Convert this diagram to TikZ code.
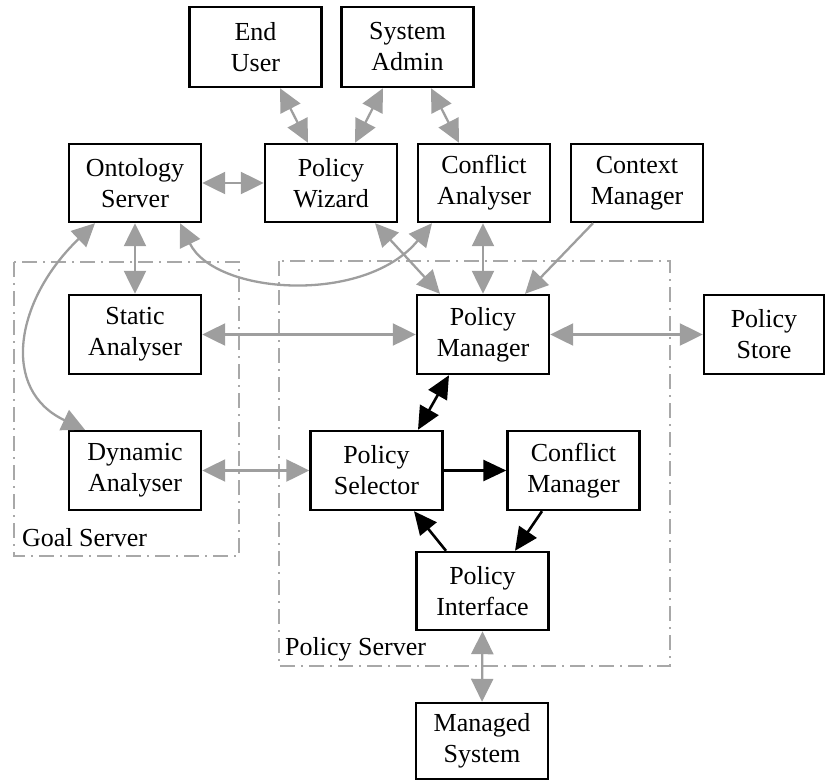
\documentclass[tikz,border=0pt]{standalone}
\usepackage{fontspec}
\setmainfont{Liberation Serif}
\usetikzlibrary{arrows.meta,calc}
\definecolor{argray}{RGB}{158,158,158}
\definecolor{grpgray}{RGB}{168,168,168}
\begin{document}
\begin{tikzpicture}[x=1pt,y=-1pt,
  box/.style={draw=black,line width=2.4pt,fill=white,minimum width=132pt,minimum height=79pt,inner sep=0pt,align=center,font=\fontsize{26}{31}\selectfont},
  lbl/.style={inner sep=0pt,font=\fontsize{26}{31}\selectfont},
  grp/.style={draw=grpgray,line width=2pt,dash pattern=on 15pt off 6pt on 2pt off 6pt},
  garrow/.style={draw=argray,line width=2.3pt,{Triangle[length=23pt,width=22pt]}-{Triangle[length=23pt,width=22pt]}},
  gsingle/.style={draw=argray,line width=2.3pt,-{Triangle[length=23pt,width=22pt]}},
  barrow/.style={draw=black,line width=2.6pt,{Triangle[length=23pt,width=21pt]}-{Triangle[length=23pt,width=21pt]}},
  bsingle/.style={draw=black,line width=2.6pt,-{Triangle[length=23pt,width=21pt]}}
]
\useasboundingbox (0,0) rectangle (827,780);
% groups
\draw[grp] (14,262) rectangle (239,556);
\draw[grp] (279,261) rectangle (670,666);
\node[lbl,anchor=base west] (goallbl) at (22,546) {Goal Server};
\node[lbl,anchor=base west] (pollbl) at (285,655) {Policy Server};
% boxes
\node[box,minimum height=80pt] (eu) at (255.5,47) {End\\User};
\node[box,minimum height=80pt] (sa) at (407.5,47) {System\\Admin};
\node[box,minimum height=78pt] (os) at (135,183) {Ontology\\Server};
\node[box,minimum height=78pt] (pw) at (331,183) {Policy\\Wizard};
\node[box,minimum height=78pt] (ca) at (484,183) {Conflict\\Analyser};
\node[box,minimum height=78pt] (cm) at (637,183) {Context\\Manager};
\node[box] (st) at (135,334.5) {Static\\Analyser};
\node[box] (pm) at (483,334.5) {Policy\\Manager};
\node[box,minimum width=120pt] (ps) at (764,334.5) {Policy\\Store};
\node[box] (da) at (135,470.5) {Dynamic\\Analyser};
\node[box] (sel) at (376.5,470.5) {Policy\\Selector};
\node[box] (cfm) at (573.5,470.5) {Conflict\\Manager};
\node[box,minimum height=78pt] (pi) at (482.5,591) {Policy\\Interface};
\node[box,minimum height=76pt] (ms) at (482,741) {Managed\\System};
% gray connectors
\draw[garrow] ([xshift=24.5pt]eu.south) -- ([xshift=-23pt]pw.north);
\draw[garrow] ([xshift=-24.5pt]sa.south) -- ([xshift=24pt]pw.north);
\draw[garrow] ([xshift=23.5pt]sa.south) -- ([xshift=-25pt]ca.north);
\draw[garrow] (os.east) -- (pw.west);
\draw[garrow] (os.south) -- (st.north);
\draw[garrow] ([xshift=-40pt]os.south) .. controls (15,300) and (0,390) .. ([xshift=-50pt]da.north);
\draw[garrow] ([xshift=-52pt]ca.south) .. controls (365,305) and (215,295) .. ([xshift=45pt]os.south);
\draw[garrow] ([xshift=44pt]pw.south) -- ([xshift=-43pt]pm.north);
\draw[garrow] ([xshift=-1pt]ca.south) -- (pm.north);
\draw[gsingle] ([xshift=-44pt]cm.south) -- ([xshift=42pt]pm.north);
\draw[garrow] (st.east) -- (pm.west);
\draw[garrow] (pm.east) -- (ps.west);
\draw[garrow] (da.east) -- (sel.west);
\draw[garrow] (pi.south) -- (ms.north);
% black connectors
\draw[barrow] ([xshift=-34pt]pm.south) -- ([xshift=41.5pt]sel.north);
\draw[bsingle] (sel.east) -- (cfm.west);
\draw[bsingle] ([xshift=-31.5pt]cfm.south) -- ([xshift=32.5pt]pi.north);
\draw[bsingle] ([xshift=-36.5pt]pi.north) -- ([xshift=37.5pt]sel.south);
\end{tikzpicture}
\end{document}
